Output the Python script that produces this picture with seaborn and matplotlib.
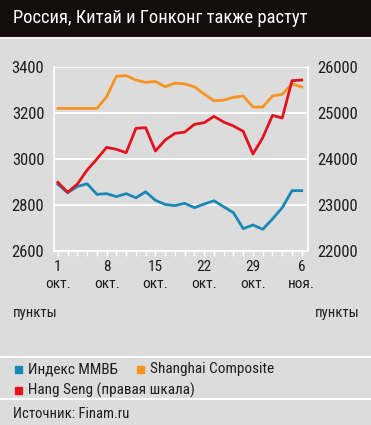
import pandas as pd
import seaborn as sns
import matplotlib.pyplot as plt
from matplotlib.patches import Rectangle
from matplotlib.lines import Line2D

# данные (торговые дни, 1 окт. - 6 ноя.)
day_idx = list(range(26))
tick_pos = [0, 5, 10, 15, 20, 25]
tick_labels = ['1\nокт.', '8\nокт.', '15\nокт.', '22\nокт.', '29\nокт.', '6\nноя.']

micex = [2890, 2853, 2880, 2892, 2846, 2849, 2836, 2849, 2831, 2857, 2820, 2802, 2797,
         2807, 2788, 2804, 2818, 2792, 2766, 2697, 2713, 2694, 2739, 2788, 2862, 2862]
shanghai = [3219, 3219, 3219, 3219, 3219, 3270, 3359, 3361, 3342, 3332, 3336, 3313, 3329,
            3325, 3313, 3281, 3252, 3255, 3267, 3273, 3225, 3225, 3273, 3280, 3325, 3312]
hangseng = [23490, 23273, 23454, 23758, 23996, 24250, 24206, 24134, 24662, 24676, 24170, 24409, 24553,
            24580, 24749, 24785, 24922, 24799, 24713, 24597, 24105, 24459, 24944, 24886, 25696, 25711]

df = pd.DataFrame({'day': day_idx, 'micex': micex, 'shanghai': shanghai, 'hangseng': hangseng})

c_blue = '#1a88b6'
c_orange = '#f7941d'
c_red = '#e3121e'
bg = '#dcdcdc'
txt = '#1e1e1e'

plt.rcParams['font.family'] = ['Roboto Condensed', 'DejaVu Sans']

W, H = 371, 425
fig = plt.figure(figsize=(W / 100, H / 100), dpi=100, facecolor=bg)

# заголовок
fig.patches.append(Rectangle((0, 1 - 36 / H), 1, 36 / H, transform=fig.transFigure,
                             color='#150d0d', zorder=0))
fig.add_artist(Line2D([0, 1], [1 - 38 / H, 1 - 38 / H], color='#f2f2f2', lw=1.5))
fig.text(13 / W, 1 - 18 / H, 'Россия, Китай и Гонконг также растут', color='white',
         fontsize=13.3, va='center', ha='left')

ax = fig.add_axes([54 / W, 1 - 251 / H, (307.6 - 54) / W, (251 - 66.7) / H])
ax.set_facecolor(bg)
for s in ax.spines.values():
    s.set_visible(False)
ax.spines['left'].set_visible(True)
ax.spines['bottom'].set_visible(True)
ax.spines['left'].set_color('white')
ax.spines['bottom'].set_color('white')
ax.spines['left'].set_linewidth(1.2)
ax.spines['bottom'].set_linewidth(1.2)

ax.set_ylim(2600, 3400)
ax.set_yticks([2600, 2800, 3000, 3200, 3400])
ax.grid(axis='y', color='white', lw=1.3)
ax.set_axisbelow(True)

sns.lineplot(data=df, x='day', y='shanghai', ax=ax, color=c_orange, lw=2)
sns.lineplot(data=df, x='day', y='micex', ax=ax, color=c_blue, lw=2)

ax2 = ax.twinx()
ax2.set_ylim(22000, 26000)
ax2.set_yticks([22000, 23000, 24000, 25000, 26000])
for s in ax2.spines.values():
    s.set_visible(False)
ax2.spines['right'].set_visible(True)
ax2.spines['right'].set_color('white')
ax2.spines['right'].set_linewidth(1.2)
sns.lineplot(data=df, x='day', y='hangseng', ax=ax2, color=c_red, lw=2)

ax.set_xlim(-0.4, 25.6)
ax.set_xticks(tick_pos)
ax.set_xticks(day_idx, minor=True)
ax.set_xticklabels(tick_labels, fontsize=11, color=txt, linespacing=1.25)
ax.tick_params(axis='x', which='both', direction='out', length=3.5, width=1, color='white', pad=3)
ax.tick_params(axis='y', length=0, pad=7, labelsize=12, labelcolor=txt)
ax2.tick_params(axis='y', length=0, pad=7, labelsize=12, labelcolor=txt)
for a in (ax, ax2):
    a.set_xlabel('')
    a.set_ylabel('')

fig.text(13 / W, 1 - 313 / H, 'пункты', fontsize=10.5, color=txt, va='center', ha='left')
fig.text(360 / W, 1 - 313 / H, 'пункты', fontsize=10.5, color=txt, va='center', ha='right')

# легенда
fig.add_artist(Line2D([0, 1], [1 - 357 / H, 1 - 357 / H], color='white', lw=1.5))
fig.add_artist(Line2D([0, 1], [1 - 399 / H, 1 - 399 / H], color='white', lw=1.5))
legend_items = [('Индекс ММВБ', c_blue, 15, 369), ('Shanghai Composite', c_orange, 137, 369),
                ('Hang Seng (правая шкала)', c_red, 15, 390)]
for label, col, x0, y0 in legend_items:
    fig.patches.append(Rectangle((x0 / W, 1 - (y0 + 3.5) / H), 7 / W, 7 / H,
                                 transform=fig.transFigure, color=col))
    fig.text((x0 + 13) / W, 1 - y0 / H, label, fontsize=11, color=txt, va='center', ha='left')

fig.text(13 / W, 1 - 414 / H, 'Источник: Finam.ru', fontsize=10.5, color=txt, va='center', ha='left')

fig.savefig('out.png', dpi=100, facecolor=bg)
